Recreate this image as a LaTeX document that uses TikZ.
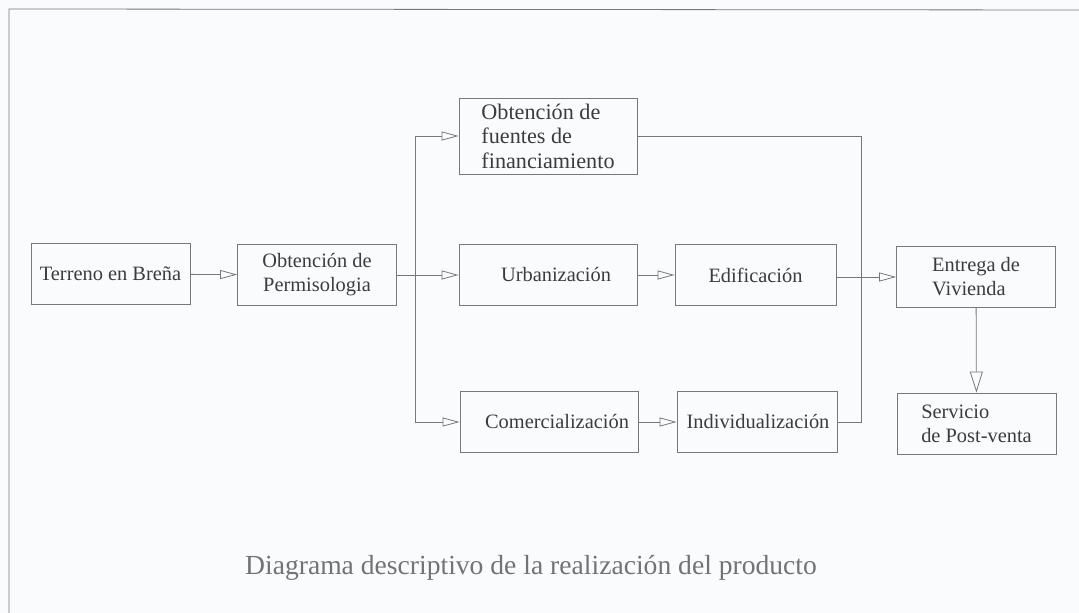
\documentclass[tikz,border=0pt]{standalone}
\usepackage{fontspec}
\setmainfont{Liberation Serif}
\usepackage{xcolor}
\usetikzlibrary{arrows.meta, positioning}

\definecolor{paper}{RGB}{250,251,253}
\definecolor{ink}{RGB}{60,60,60}
\definecolor{rule}{RGB}{120,120,120}

\begin{document}
\begin{tikzpicture}[
  x=0.5pt, y=-0.5pt,
  box/.style={draw=rule, line width=0.4pt, minimum width=79.5pt, minimum height=30.5pt, font=\fontsize{10.2}{12}\selectfont, text=ink, align=center, inner sep=2pt},
  wide/.style={box, minimum width=89pt},
  line/.style={draw=rule, line width=0.4pt},
  arrow/.style={line, -{Triangle[open, length=8.5pt, width=4.5pt]}},
  bigarrow/.style={line, -{Triangle[open, length=10.5pt, width=6.5pt]}}
]
\fill[paper] (0,0) rectangle (1079,613);
\useasboundingbox (0,0) rectangle (1079,613);
% frame
\draw[line] (9,613) -- (9,9) -- (1079,10);
% boxes
\node[box] (terreno) at (110.5,274) {Terreno en Breña};
\node[box] (permis) at (317,275) {Obtención de\\Permisologia};
\node[wide, minimum height=38pt, align=left, font=\fontsize{11.1}{12.3}\selectfont] (financ) at (548,136) {Obtención de\\fuentes de\\financiamiento};
\node[wide] (urban) at (548,275) {\hspace*{8pt}Urbanización};
\node[box, minimum width=80.5pt] (edif) at (755.5,275) {Edificación};
\node[box, align=left] (entrega) at (976,277) {Entrega de\\Vivienda};
\node[wide] (comer) at (549,422) {\hspace*{8pt}Comercialización};
\node[box, minimum width=80pt] (indiv) at (757,422) {\hspace*{1pt}Individualización};
\node[box, align=left] (servicio) at (976.5,423.5) {Servicio\\de Post-venta};
% connectors
\coordinate (split) at (415,275);
\coordinate (merge) at (861,275);
\draw[arrow] (terreno) -- (permis);
\draw[line] (permis) -- (split);
\draw[arrow] (split) |- (financ.west);
\draw[arrow] (split) -- (urban);
\draw[arrow] (split) |- (comer.west);
\draw[arrow] (urban) -- (edif);
\draw[arrow] (comer) -- (indiv);
\draw[line] (financ.east) -| (merge);
\draw[line] (indiv.east) -| (merge);
\draw[arrow] (edif.east |- entrega.west) -- (entrega.west);
\draw[bigarrow] (entrega) -- (servicio);
% caption
\node[font=\fontsize{13.8}{16}\selectfont, text=black!55] (caption) at (531,568) {Diagrama descriptivo de la realización del producto};
\end{tikzpicture}
\end{document}
